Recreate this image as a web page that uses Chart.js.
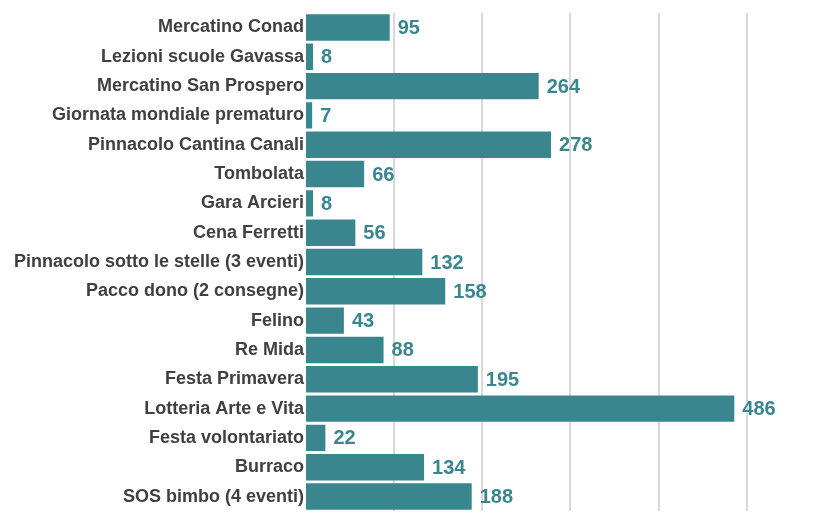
<!DOCTYPE html>
<html>
<head>
<meta charset="utf-8">
<script src="https://cdn.jsdelivr.net/npm/chart.js@4/dist/chart.umd.min.js"></script>
<style>
    body { margin: 0; overflow: hidden; background: #ffffff; }
    #wrap { width: 826px; height: 524px; }
</style>
</head>
<body>
<div id="wrap"><canvas id="barChart" width="826" height="524"></canvas></div>
<script>
var categories = [
    'Mercatino Conad',
    'Lezioni scuole Gavassa',
    'Mercatino San Prospero',
    'Giornata mondiale prematuro',
    'Pinnacolo Cantina Canali',
    'Tombolata',
    'Gara Arcieri',
    'Cena Ferretti',
    'Pinnacolo sotto le stelle (3 eventi)',
    'Pacco dono (2 consegne)',
    'Felino',
    'Re Mida',
    'Festa Primavera',
    'Lotteria Arte e Vita',
    'Festa volontariato',
    'Burraco',
    'SOS bimbo (4 eventi)'
];
var values = [95, 8, 264, 7, 278, 66, 8, 56, 132, 158, 43, 88, 195, 486, 22, 134, 188];
var gridValues = [100, 200, 300, 400, 500];

var barColor = '#3a868f';
var labelColor = '#404040';

// draws the number next to the end of each bar
var valueLabels = {
    id: 'valueLabels',
    afterDatasetsDraw: function (chart) {
        var ctx = chart.ctx;
        var meta = chart.getDatasetMeta(0);
        ctx.save();
        ctx.font = 'bold 20px "Liberation Sans", Arial, sans-serif';
        ctx.fillStyle = barColor;
        ctx.textAlign = 'left';
        ctx.textBaseline = 'middle';
        for (var i = 0; i < meta.data.length; i++) {
            var bar = meta.data[i];
            ctx.fillText(String(values[i]), bar.x + 8, bar.y + 1);
        }
        ctx.restore();
    }
};

var ctx = document.getElementById('barChart').getContext('2d');
var myChart = new Chart(ctx, {
    type: 'bar',
    data: {
        labels: categories,
        datasets: [{
            data: values,
            backgroundColor: barColor,
            borderWidth: 0,
            barPercentage: 0.9,
            categoryPercentage: 1.0
        }]
    },
    options: {
        indexAxis: 'y',
        responsive: false,
        animation: false,
        layout: {
            padding: { top: 12, right: 0, bottom: 0, left: 0 }
        },
        plugins: {
            legend: { display: false },
            tooltip: { enabled: false }
        },
        scales: {
            x: {
                min: 0,
                max: 590,
                ticks: { display: false },
                border: { display: false },
                grid: {
                    drawTicks: false,
                    lineWidth: 2,
                    color: '#d9d9d9'
                },
                afterBuildTicks: function (scale) {
                    scale.ticks = gridValues.map(function (v) { return { value: v }; });
                }
            },
            y: {
                border: { display: false },
                grid: { display: false, drawTicks: false },
                ticks: {
                    color: labelColor,
                    padding: 2,
                    autoSkip: false,
                    font: { family: '"Liberation Sans", Arial, sans-serif', size: 18, weight: 'bold' }
                },
                afterFit: function (scale) {
                    scale.width = 306;
                }
            }
        }
    },
    plugins: [valueLabels]
});
</script>
</body>
</html>
